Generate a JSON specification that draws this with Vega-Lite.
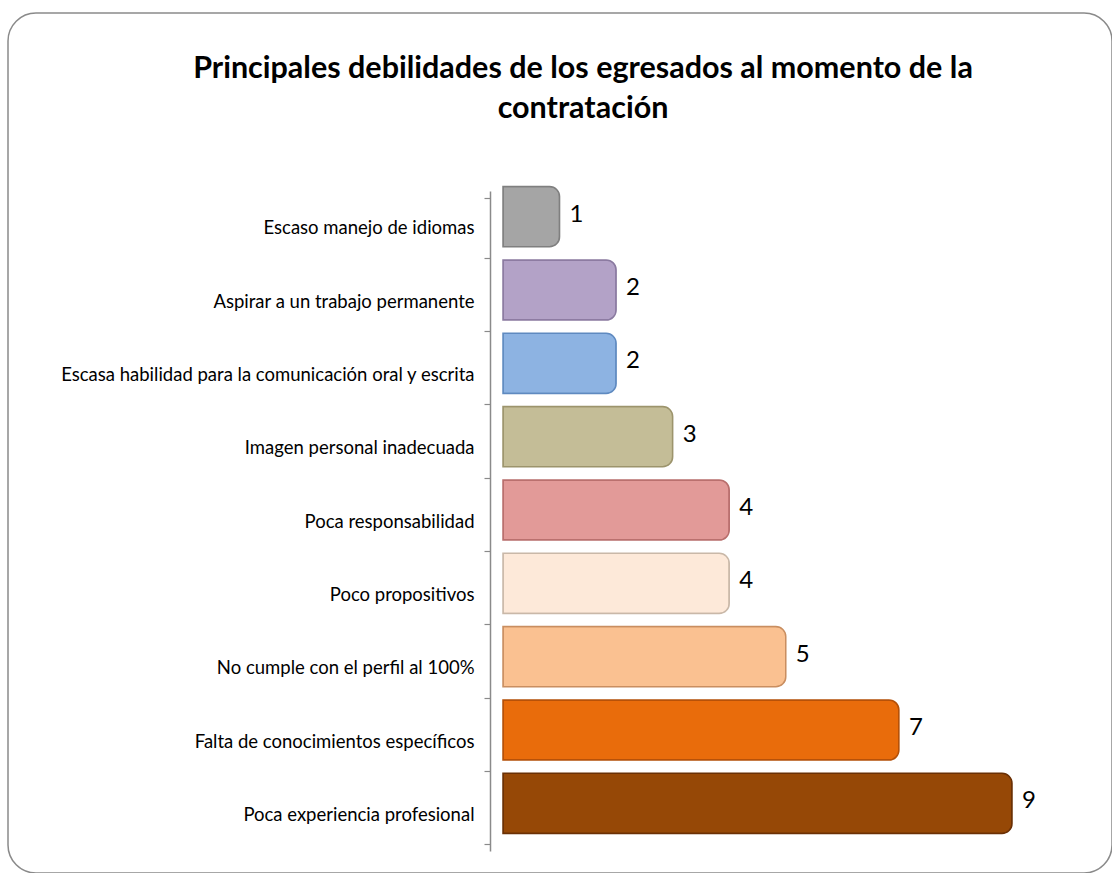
{
  "$schema": "https://vega.github.io/schema/vega-lite/v6.json",
  "autosize": {"type": "fit", "contains": "padding"},
  "width": 1112,
  "height": 873,
  "padding": {"left": 8, "top": 4, "right": 0, "bottom": 0},
  "background": "white",
  "config": {
    "view": {"stroke": "#8a8a8a", "strokeWidth": 1.5, "cornerRadius": 28, "fill": "white"},
    "font": "Lato"
  },
  "title": {
    "text": ["Principales debilidades de los egresados al momento de la", "contratación"],
    "orient": "top",
    "anchor": "middle",
    "frame": "group",
    "baseline": "top",
    "offset": -120,
    "dx": 23,
    "fontSize": 30.5,
    "fontWeight": "bold",
    "font": "Lato",
    "color": "#000000",
    "lineHeight": 40
  },
  "data": {
    "values": [
      {"categoria": "Escaso manejo de idiomas", "valor": 1},
      {"categoria": "Aspirar a un trabajo permanente", "valor": 2},
      {"categoria": "Escasa habilidad para la comunicación oral y escrita", "valor": 2},
      {"categoria": "Imagen personal inadecuada", "valor": 3},
      {"categoria": "Poca responsabilidad", "valor": 4},
      {"categoria": "Poco propositivos", "valor": 4},
      {"categoria": "No cumple con el perfil al 100%", "valor": 5},
      {"categoria": "Falta de conocimientos específicos", "valor": 7},
      {"categoria": "Poca experiencia profesional", "valor": 9}
    ]
  },
  "encoding": {
    "y": {
      "field": "categoria",
      "type": "nominal",
      "sort": null,
      "scale": {"range": [178, 838], "paddingInner": 0.18, "paddingOuter": 0.09},
      "axis": {
        "title": null,
        "offset": -482,
        "tickBand": "extent",
        "domainColor": "#8a8a8a",
        "domainWidth": 1.5,
        "tickColor": "#8a8a8a",
        "tickWidth": 1.2,
        "tickSize": 6,
        "labelFontSize": 18.5,
        "labelFont": "Lato",
        "labelColor": "#000000",
        "labelPadding": 10,
        "labelLimit": 600
      }
    },
    "x": {
      "field": "valor",
      "type": "quantitative",
      "scale": {"domain": [0, 9], "range": [495, 1004], "nice": false},
      "axis": null
    }
  },
  "layer": [
    {
      "mark": {"type": "bar", "yOffset": -11, "cornerRadiusEnd": 10, "strokeWidth": 1.5},
      "encoding": {
        "fill": {
          "field": "categoria",
          "type": "nominal",
          "legend": null,
          "scale": {
            "domain": ["Escaso manejo de idiomas", "Aspirar a un trabajo permanente", "Escasa habilidad para la comunicación oral y escrita", "Imagen personal inadecuada", "Poca responsabilidad", "Poco propositivos", "No cumple con el perfil al 100%", "Falta de conocimientos específicos", "Poca experiencia profesional"],
            "range": ["#a5a5a5", "#b3a2c7", "#8db3e2", "#c4bd97", "#e29a98", "#fde9d9", "#fac191", "#e96c0b", "#964806"]
          }
        },
        "stroke": {
          "field": "categoria",
          "type": "nominal",
          "legend": null,
          "scale": {
            "domain": ["Escaso manejo de idiomas", "Aspirar a un trabajo permanente", "Escasa habilidad para la comunicación oral y escrita", "Imagen personal inadecuada", "Poca responsabilidad", "Poco propositivos", "No cumple con el perfil al 100%", "Falta de conocimientos específicos", "Poca experiencia profesional"],
            "range": ["#7f7f7f", "#8a7aa0", "#5f8ac0", "#9c946c", "#b86e6c", "#c9b8a8", "#c98e60", "#b45008", "#6a3005"]
          }
        }
      }
    },
    {
      "mark": {"type": "text", "align": "left", "baseline": "middle", "dx": 10, "yOffset": -13, "fontSize": 24, "font": "Lato", "color": "#000000"},
      "encoding": {
        "text": {"field": "valor", "type": "quantitative"}
      }
    }
  ]
}
